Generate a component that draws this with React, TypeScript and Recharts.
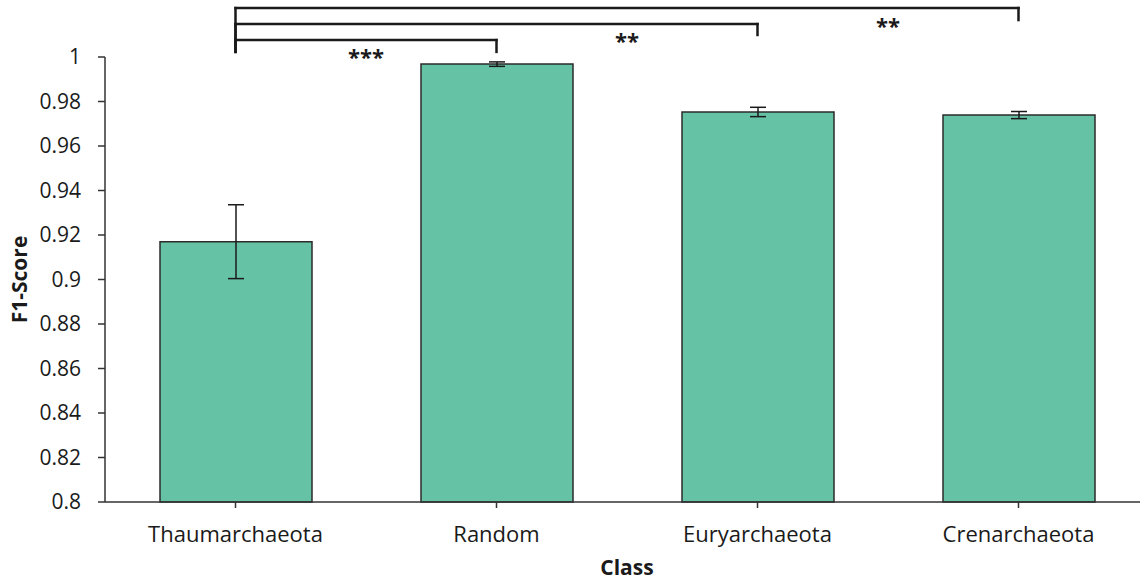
import { BarChart, Bar, XAxis, YAxis, ErrorBar, ReferenceLine } from 'recharts';

const categories = ['Thaumarchaeota', 'Random', 'Euryarchaeota', 'Crenarchaeota'];
const f1Scores = [0.917, 0.9968, 0.9753, 0.9739];
const f1Errors = [0.0166, 0.001, 0.0021, 0.0016];
const yTicks = [0.8, 0.82, 0.84, 0.86, 0.88, 0.9, 0.92, 0.94, 0.96, 0.98, 1];

// significance comparisons, all against the first class
const compareTo = ['Random', 'Euryarchaeota', 'Crenarchaeota'];
const stars = ['***', '**', '**'];

// bracket geometry in F1 units (above the 1.0 top of the axis)
const bracketTop = [1.0076, 1.0148, 1.022];
const bracketDrop = [1.0023, 1.0099, 1.0166];
const starY = [1.0, 1.0072, 1.0139];

const data = categories.map((name, i) => ({ name, f1: f1Scores[i], err: f1Errors[i] }));

const font = '"Open Sans", sans-serif';
const ink = '#1a1a1a';

const fmt = (v: number) => String(Number(v.toFixed(2)));

export default function App() {
  const lineProps = {
    stroke: ink,
    strokeWidth: 2.5,
    strokeLinecap: 'square' as const,
    ifOverflow: 'visible' as const,
  };
  return (
    <div style={{ position: 'absolute', left: 0, top: 0, fontFamily: font }}>
      <BarChart
        width={1150}
        height={580}
        data={data}
        margin={{ top: 57, right: 1, left: 0, bottom: 0 }}
      >
        <XAxis
          dataKey="name"
          height={78}
          axisLine={{ stroke: '#333', strokeWidth: 1.5 }}
          tickLine={{ stroke: '#333', strokeWidth: 1.5 }}
          tickSize={6}
          tickMargin={18}
          tick={{ fill: ink, fontSize: 22, fontFamily: font }}
          label={{
            value: 'Class',
            position: 'insideBottom',
            offset: 5,
            style: { fontWeight: 700, fontSize: 21, fill: ink, fontFamily: font },
          }}
        />
        <YAxis
          width={105}
          domain={[0.8, 1]}
          ticks={yTicks}
          tickFormatter={fmt}
          interval={0}
          axisLine={{ stroke: '#333', strokeWidth: 1.5 }}
          tickLine={{ stroke: '#333', strokeWidth: 1.5 }}
          tickSize={7}
          tickMargin={17}
          tick={{ fill: ink, fontSize: 21, fontFamily: font }}
          label={{
            value: 'F1-Score',
            angle: -90,
            position: 'insideLeft',
            offset: 20,
            style: { textAnchor: 'middle', fontWeight: 700, fontSize: 21, fill: ink, fontFamily: font },
          }}
        />
        <Bar dataKey="f1" fill="#66c2a5" stroke="#2b2b2b" strokeWidth={1.5} barSize={152} isAnimationActive={false}>
          <ErrorBar dataKey="err" width={8} stroke={ink} strokeWidth={1.5} />
        </Bar>
        {compareTo.map((target, i) => (
          <ReferenceLine
            key={'h' + i}
            segment={[
              { x: categories[0], y: bracketTop[i] },
              { x: target, y: bracketTop[i] },
            ]}
            {...lineProps}
          />
        ))}
        {compareTo.map((target, i) => (
          <ReferenceLine
            key={'l' + i}
            segment={[
              { x: categories[0], y: bracketTop[i] },
              { x: categories[0], y: bracketDrop[0] },
            ]}
            {...lineProps}
          />
        ))}
        {compareTo.map((target, i) => (
          <ReferenceLine
            key={'r' + i}
            segment={[
              { x: target, y: bracketTop[i] },
              { x: target, y: bracketDrop[i] },
            ]}
            {...lineProps}
          />
        ))}
        {stars.map((s, i) => (
          <ReferenceLine
            key={'s' + i}
            segment={[
              { x: categories[i], y: starY[i] },
              { x: categories[i + 1], y: starY[i] },
            ]}
            stroke="none"
            ifOverflow="visible"
            label={{
              value: s,
              position: 'center',
              style: { fontSize: 22, fontWeight: 700, fill: ink, fontFamily: font },
            }}
          />
        ))}
      </BarChart>
    </div>
  );
}
